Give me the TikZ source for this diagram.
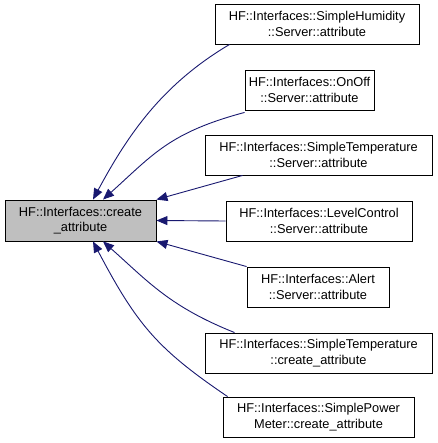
\documentclass[tikz,border=0pt]{standalone}
\usepackage{fontspec}
\setmainfont{Liberation Sans}
\usetikzlibrary{arrows.meta}
\definecolor{edgeblue}{HTML}{191970}
\definecolor{mainfill}{HTML}{BFBFBF}
\begin{document}
\begin{tikzpicture}[x=1pt,y=-1pt,
  box/.style={draw=black,line width=0.9pt,rectangle,minimum height=40pt,inner sep=0pt,
    align=center,font=\fontsize{12.8pt}{15.5pt}\selectfont},
  edge/.style={draw=edgeblue,line width=0.9pt,-{Triangle[length=11pt,width=9pt]}}]
\useasboundingbox (0,0) rectangle (437,443);
\node[box,fill=mainfill,minimum width=151pt,minimum height=41pt] (main) at (80.5,220.5) {HF::Interfaces::create\\\_attribute};
\node[box,minimum width=204pt] (n1) at (317,24) {HF::Interfaces::SimpleHumidity\\::Server::attribute};
\node[box,minimum width=129pt] (n2) at (309.5,90) {HF::Interfaces::OnOff\\::Server::attribute};
\node[box,minimum width=227pt] (n3) at (318.5,155) {HF::Interfaces::SimpleTemperature\\::Server::attribute};
\node[box,minimum width=186pt] (n4) at (319,221) {HF::Interfaces::LevelControl\\::Server::attribute};
\node[box,minimum width=142pt] (n5) at (318,287) {HF::Interfaces::Alert\\::Server::attribute};
\node[box,minimum width=227pt] (n6) at (318.5,353) {HF::Interfaces::SimpleTemperature\\::create\_attribute};
\node[box,minimum width=191pt] (n7) at (318.5,417) {HF::Interfaces::SimplePower\\Meter::create\_attribute};
\draw[edge] ([xshift=15pt]n1.south west) .. controls +(-67.5,40) and +(35,-65) .. ([xshift=12.5pt]main.north);
\draw[edge] ([yshift=-2pt]n2.south west) .. controls +(-75,20) and +(50,-45) .. ([xshift=22.5pt]main.north);
\draw[edge] ([xshift=38pt]n3.south west) -- (main.north east);
\draw[edge] (n4.west) -- (main.east);
\draw[edge] (n5.north west) -- (main.south east);
\draw[edge] ([xshift=30pt]n6.north west) .. controls +(-65,-26) and +(45,40) .. ([xshift=22.5pt]main.south);
\draw[edge] ([xshift=5pt]n7.north west) .. controls +(-70,-47.5) and +(44,83.6) .. ([xshift=12.5pt]main.south);
\end{tikzpicture}
\end{document}
